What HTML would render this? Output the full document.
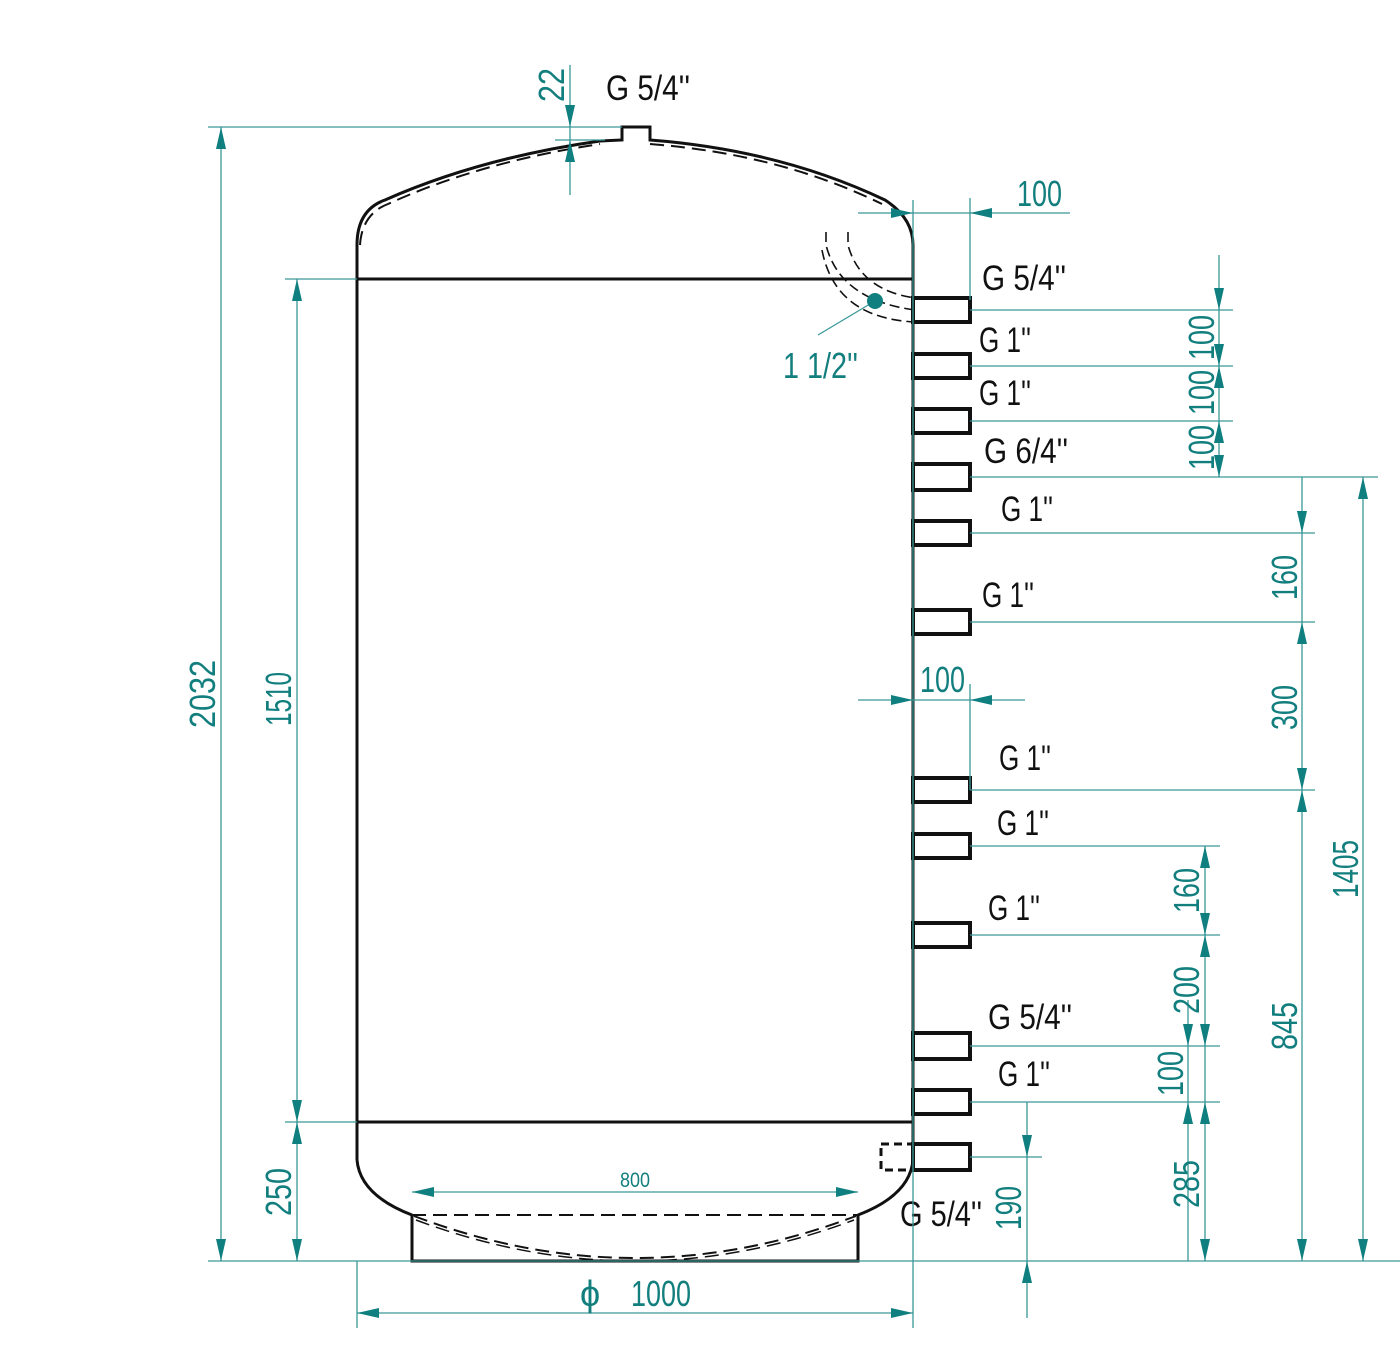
<!DOCTYPE html>
<html><head><meta charset="utf-8"><style>
html,body{margin:0;padding:0;background:#fff}
svg{display:block}
.t{stroke:#3a9898;stroke-width:1.3;fill:none}
.a{fill:#107f7f}
.tx{fill:#127e7e;font-family:"Liberation Sans",sans-serif;font-size:36px}
.bk{fill:#111;font-family:"Liberation Sans",sans-serif;font-size:35px}
.k{stroke:#111;stroke-width:3;fill:none}
.kd{stroke:#111;stroke-width:2;fill:none;stroke-dasharray:14 7}
.p{stroke:#111;stroke-width:4;fill:#fff}
</style></head><body>
<svg width="1400" height="1353" viewBox="0 0 1400 1353" xmlns="http://www.w3.org/2000/svg">
<path class="k" d="M357,1160 L357,245 Q357,210 385,200 Q480,158 600,141 L622,140 L622,127 L650,127 L650,140 Q780,150 885,200 Q913,218 913,245 L913,1160"/>
<path class="kd" d="M360,245 Q362,214 388,204 Q480,162 600,144 M650,144 Q780,154 882,204"/>
<line class="k" x1="357" y1="279" x2="913" y2="279"/>
<line class="k" x1="357" y1="1122" x2="913" y2="1122"/>
<path class="k" d="M357,1160 Q360,1195 412,1215 M913,1160 Q910,1195 858,1215"/>
<path class="k" d="M412,1215 L412,1261 L858,1261 L858,1215"/>
<line class="kd" x1="412" y1="1215" x2="858" y2="1215"/>
<path class="kd" d="M414,1216 Q635,1300 856,1216"/>
<path class="kd" d="M416,1220 Q635,1302 854,1220" style="stroke-width:1.5"/>
<path class="kd" style="stroke-width:1.6;stroke-dasharray:10 5" d="M826,232 L826,245 Q840,300 915,310"/>
<path class="kd" style="stroke-width:1.6;stroke-dasharray:10 5" d="M848,232 L848,245 Q860,290 915,298"/>
<path class="kd" style="stroke-width:1.6;stroke-dasharray:10 5" d="M822,250 Q835,318 915,322"/>
<g class="p">
<rect x="913" y="298" width="57" height="24"/>
<rect x="913" y="354" width="57" height="24"/>
<rect x="913" y="409" width="57" height="24"/>
<rect x="913" y="464" width="57" height="26"/>
<rect x="913" y="521" width="57" height="24"/>
<rect x="913" y="610" width="57" height="24"/>
<rect x="913" y="778" width="57" height="24"/>
<rect x="913" y="834" width="57" height="24"/>
<rect x="913" y="923" width="57" height="24"/>
<rect x="913" y="1033" width="57" height="26"/>
<rect x="913" y="1090" width="57" height="24"/>
<rect x="913" y="1144" width="57" height="26"/>
</g>
<rect x="881" y="1144" width="32" height="26" style="stroke:#111;stroke-width:3;fill:none;stroke-dasharray:8 5"/>
<g class="bk" lengthAdjust="spacingAndGlyphs">
<text x="606" y="100" textLength="84" lengthAdjust="spacingAndGlyphs">G 5/4''</text>
<text x="982" y="290" textLength="84" lengthAdjust="spacingAndGlyphs">G 5/4''</text>
<text x="979" y="352" textLength="52" lengthAdjust="spacingAndGlyphs">G 1''</text>
<text x="979" y="405" textLength="52" lengthAdjust="spacingAndGlyphs">G 1''</text>
<text x="984" y="463" textLength="84" lengthAdjust="spacingAndGlyphs">G 6/4''</text>
<text x="1001" y="521" textLength="52" lengthAdjust="spacingAndGlyphs">G 1''</text>
<text x="982" y="607" textLength="52" lengthAdjust="spacingAndGlyphs">G 1''</text>
<text x="999" y="770" textLength="52" lengthAdjust="spacingAndGlyphs">G 1''</text>
<text x="997" y="835" textLength="52" lengthAdjust="spacingAndGlyphs">G 1''</text>
<text x="988" y="920" textLength="52" lengthAdjust="spacingAndGlyphs">G 1''</text>
<text x="988" y="1029" textLength="84" lengthAdjust="spacingAndGlyphs">G 5/4''</text>
<text x="998" y="1086" textLength="52" lengthAdjust="spacingAndGlyphs">G 1''</text>
<text x="900" y="1226" textLength="82" lengthAdjust="spacingAndGlyphs">G 5/4''</text>
</g>
<g class="t">
<line x1="208" y1="127" x2="622" y2="127"/>
<line x1="208" y1="1261" x2="1400" y2="1261"/>
<line x1="221" y1="127" x2="221" y2="1261"/>
<line x1="285" y1="279" x2="357" y2="279"/>
<line x1="285" y1="1122" x2="357" y2="1122"/>
<line x1="297" y1="279" x2="297" y2="1261"/>
<line x1="570" y1="65" x2="570" y2="195"/>
<line x1="555" y1="140" x2="605" y2="140"/>
<line x1="858" y1="213" x2="1070" y2="213"/>
<line x1="913" y1="200" x2="913" y2="1328"/>
<line x1="970" y1="198" x2="970" y2="300"/>
<line x1="858" y1="700" x2="1025" y2="700"/>
<line x1="970" y1="684" x2="970" y2="790"/>
<line x1="970" y1="310" x2="1233" y2="310"/>
<line x1="970" y1="366" x2="1233" y2="366"/>
<line x1="970" y1="421" x2="1233" y2="421"/>
<line x1="970" y1="477" x2="1378" y2="477"/>
<line x1="1219" y1="255" x2="1219" y2="477"/>
<line x1="970" y1="533" x2="1315" y2="533"/>
<line x1="970" y1="622" x2="1315" y2="622"/>
<line x1="970" y1="790" x2="1315" y2="790"/>
<line x1="1302" y1="477" x2="1302" y2="1261"/>
<line x1="1363" y1="477" x2="1363" y2="1261"/>
<line x1="970" y1="846" x2="1220" y2="846"/>
<line x1="970" y1="935" x2="1220" y2="935"/>
<line x1="970" y1="1046" x2="1220" y2="1046"/>
<line x1="970" y1="1102" x2="1220" y2="1102"/>
<line x1="1205" y1="846" x2="1205" y2="1261"/>
<line x1="1188" y1="1000" x2="1188" y2="1261"/>
<line x1="970" y1="1157" x2="1042" y2="1157"/>
<line x1="1027" y1="1102" x2="1027" y2="1318"/>
<line x1="412" y1="1192" x2="858" y2="1192"/>
<line x1="357" y1="1261" x2="357" y2="1328"/>
<line x1="357" y1="1313" x2="913" y2="1313"/>
<line x1="875" y1="301" x2="818" y2="335"/>
</g>
<g class="a">
<polygon points="216,149 226,149 221,127"/><polygon points="216,1239 226,1239 221,1261"/>
<polygon points="292,301 302,301 297,279"/><polygon points="292,1100 302,1100 297,1122"/>
<polygon points="292,1144 302,1144 297,1122"/><polygon points="292,1239 302,1239 297,1261"/>
<polygon points="565,105 575,105 570,127"/><polygon points="565,162 575,162 570,140"/>
<polygon points="891,208 891,218 913,213"/><polygon points="992,208 992,218 970,213"/>
<polygon points="891,695 891,705 913,700"/><polygon points="992,695 992,705 970,700"/>
<polygon points="1214,288 1224,288 1219,310"/><polygon points="1214,344 1224,344 1219,366"/>
<polygon points="1214,388 1224,388 1219,366"/><polygon points="1214,443 1224,443 1219,421"/>
<polygon points="1214,455 1224,455 1219,477"/>
<polygon points="1297,511 1307,511 1302,533"/><polygon points="1297,644 1307,644 1302,622"/>
<polygon points="1297,768 1307,768 1302,790"/><polygon points="1297,812 1307,812 1302,790"/>
<polygon points="1297,1239 1307,1239 1302,1261"/>
<polygon points="1358,499 1368,499 1363,477"/><polygon points="1358,1239 1368,1239 1363,1261"/>
<polygon points="1200,868 1210,868 1205,846"/><polygon points="1200,913 1210,913 1205,935"/>
<polygon points="1200,957 1210,957 1205,935"/><polygon points="1200,1024 1210,1024 1205,1046"/>
<polygon points="1200,1124 1210,1124 1205,1102"/><polygon points="1200,1239 1210,1239 1205,1261"/>
<polygon points="1183,1024 1193,1024 1188,1046"/><polygon points="1183,1124 1193,1124 1188,1102"/>
<polygon points="1022,1135 1032,1135 1027,1157"/><polygon points="1022,1283 1032,1283 1027,1261"/>
<polygon points="434,1187 434,1197 412,1192"/><polygon points="836,1187 836,1197 858,1192"/>
<polygon points="379,1308 379,1318 357,1313"/><polygon points="891,1308 891,1318 913,1313"/>
<circle cx="875" cy="301" r="8"/>
</g>
<g class="tx">
<text transform="translate(215,728) rotate(-90)" textLength="68" lengthAdjust="spacingAndGlyphs">2032</text>
<text transform="translate(291,726) rotate(-90)" textLength="54" lengthAdjust="spacingAndGlyphs">1510</text>
<text transform="translate(291,1216) rotate(-90)" textLength="48" lengthAdjust="spacingAndGlyphs">250</text>
<text transform="translate(564,102) rotate(-90)" textLength="34" lengthAdjust="spacingAndGlyphs">22</text>
<text x="1017" y="206" textLength="45" lengthAdjust="spacingAndGlyphs">100</text>
<text x="920" y="692" textLength="45" lengthAdjust="spacingAndGlyphs">100</text>
<text x="783" y="378" textLength="75" lengthAdjust="spacingAndGlyphs">1 1/2''</text>
<text transform="translate(1214,360) rotate(-90)" textLength="45" lengthAdjust="spacingAndGlyphs">100</text>
<text transform="translate(1214,415) rotate(-90)" textLength="45" lengthAdjust="spacingAndGlyphs">100</text>
<text transform="translate(1214,470) rotate(-90)" textLength="45" lengthAdjust="spacingAndGlyphs">100</text>
<text transform="translate(1297,600) rotate(-90)" textLength="45" lengthAdjust="spacingAndGlyphs">160</text>
<text transform="translate(1297,730) rotate(-90)" textLength="45" lengthAdjust="spacingAndGlyphs">300</text>
<text transform="translate(1297,1050) rotate(-90)" textLength="48" lengthAdjust="spacingAndGlyphs">845</text>
<text transform="translate(1358,898) rotate(-90)" textLength="58" lengthAdjust="spacingAndGlyphs">1405</text>
<text transform="translate(1199,913) rotate(-90)" textLength="45" lengthAdjust="spacingAndGlyphs">160</text>
<text transform="translate(1199,1014) rotate(-90)" textLength="48" lengthAdjust="spacingAndGlyphs">200</text>
<text transform="translate(1183,1096) rotate(-90)" textLength="45" lengthAdjust="spacingAndGlyphs">100</text>
<text transform="translate(1199,1208) rotate(-90)" textLength="48" lengthAdjust="spacingAndGlyphs">285</text>
<text transform="translate(1021,1230) rotate(-90)" textLength="44" lengthAdjust="spacingAndGlyphs">190</text>
<text x="620" y="1187" style="font-size:21px" textLength="30" lengthAdjust="spacingAndGlyphs">800</text>
<text x="580" y="1306" style="font-size:36px">ϕ</text>
<text x="631" y="1306" textLength="60" lengthAdjust="spacingAndGlyphs">1000</text>
</g>
</svg>
</body></html>
